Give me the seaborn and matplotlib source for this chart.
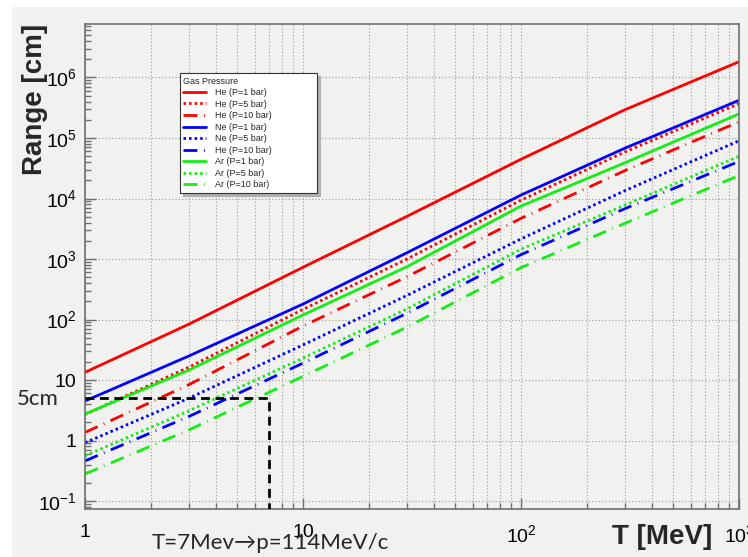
import matplotlib
matplotlib.use("Agg")
import matplotlib.pyplot as plt
from matplotlib.patches import Rectangle
from matplotlib.ticker import LogLocator, FuncFormatter, NullFormatter
import numpy as np
import pandas as pd
import seaborn as sns

# Proton kinetic energy [MeV]
T_MeV = [1, 3, 10, 30, 100, 300, 1000]

# Range [cm] in each gas / pressure
he_1bar = [13.4, 84, 730, 5080, 44500, 2.94e5, 1.82e6]
he_5bar = [2.7, 16.3, 147, 1000, 9400, 5.9e4, 3.7e5]
he_10bar = [1.36, 8.4, 78, 510, 4700, 2.9e4, 1.85e5]
ne_1bar = [4.5, 25, 180, 1270, 11400, 6.8e4, 4.2e5]
ne_5bar = [0.92, 5.0, 38, 250, 2150, 1.35e4, 9.0e4]
ne_10bar = [0.46, 2.5, 19, 127, 1180, 6.8e3, 4.1e4]
ar_1bar = [2.74, 14.6, 119, 747, 7500, 3.9e4, 2.5e5]
ar_5bar = [0.56, 3.1, 23, 150, 1450, 7.8e3, 5.0e4]
ar_10bar = [0.28, 1.5, 11.5, 75, 720, 3.9e3, 2.4e4]

series_labels = ["He (P=1 bar)", "He (P=5 bar)", "He (P=10 bar)",
                 "Ne (P=1 bar)", "Ne (P=5 bar)", "He (P=10 bar)",
                 "Ar (P=1 bar)", "Ar (P=5 bar)", "Ar (P=10 bar)"]
series_values = [he_1bar, he_5bar, he_10bar,
                 ne_1bar, ne_5bar, ne_10bar,
                 ar_1bar, ar_5bar, ar_10bar]

# Working point: T = 7 MeV gives a 5 cm range
mark_T = 7
mark_range = 5

# ---- styling ----
sns.set_theme(style="ticks")
plt.rcParams["font.family"] = ["Liberation Sans", "DejaVu Sans"]
plt.rcParams["mathtext.fontset"] = "custom"
plt.rcParams["mathtext.rm"] = "Liberation Sans"
plt.rcParams["mathtext.it"] = "Liberation Sans:italic"
plt.rcParams["mathtext.bf"] = "Liberation Sans:bold"

bg = "#f1f2ef"
frame = "#707070"

red, blue, green = "#ff0000", "#0000ff", "#14ee14"
solid = "-"
dotted = (0, (0.9, 1.1))
dashdot = (0, (5.0, 2.4, 0.3, 2.4))
colors = [red, red, red, blue, blue, blue, green, green, green]
styles = [solid, dotted, dashdot] * 3

fig = plt.figure(figsize=(7.48, 5.57), dpi=100, facecolor="white")
fig.patches.append(Rectangle((12 / 748, 0), 1, 1 - 7 / 557,
                             transform=fig.transFigure, facecolor=bg,
                             edgecolor="none", zorder=-10))
ax = fig.add_axes([85 / 748, 48 / 557, 654 / 748, 485 / 557])
ax.set_facecolor(bg)

for vals, lab, col, ls in zip(series_values, series_labels, colors, styles):
    df = pd.DataFrame({"T": T_MeV, "Range": vals})
    sns.lineplot(data=df, x="T", y="Range", ax=ax, color=col, linestyle=ls,
                 linewidth=2.0, label=lab, estimator=None, sort=True)

ax.set_xscale("log")
ax.set_yscale("log")
y_low, y_high = 0.0738, 7.66e6
ax.set_xlim(1, 1000)
ax.set_ylim(y_low, y_high)

# dashed guide to the working point
guide = pd.DataFrame({"T": [1, mark_T, mark_T],
                      "Range": [mark_range, mark_range, y_low]})
ax.plot(guide["T"], guide["Range"], color="black", linewidth=2.0,
        linestyle=(0, (3.2, 2.0)), zorder=5)

# ticks
def fmt(v, pos):
    if v <= 0:
        return ""
    n = int(round(np.log10(v)))
    if n == 0:
        return "1"
    if n == 1:
        return "10"
    return r"$10^{%d}$" % n

ax.xaxis.set_major_locator(LogLocator(base=10, numticks=20))
ax.xaxis.set_minor_locator(LogLocator(base=10, subs=np.arange(2, 10), numticks=40))
ax.yaxis.set_major_locator(LogLocator(base=10, numticks=20))
ax.yaxis.set_minor_locator(LogLocator(base=10, subs=np.arange(2, 10), numticks=40))
ax.xaxis.set_major_formatter(FuncFormatter(fmt))
ax.yaxis.set_major_formatter(FuncFormatter(fmt))
ax.xaxis.set_minor_formatter(NullFormatter())
ax.yaxis.set_minor_formatter(NullFormatter())

ax.tick_params(axis="both", which="major", direction="in", length=8,
               width=1.0, color=frame, labelsize=14, labelcolor="black")
ax.tick_params(axis="both", which="minor", direction="in", length=4.3,
               width=1.0, color=frame)
ax.tick_params(axis="x", which="major", pad=11)
ax.tick_params(axis="y", which="major", pad=6)

for sp in ax.spines.values():
    sp.set_color(frame)
    sp.set_linewidth(1.2)

ax.grid(True, which="major", axis="both", color="#9a9a9a",
        linestyle=(0, (1, 2)), linewidth=0.8)
ax.grid(True, which="minor", axis="x", color="#9a9a9a",
        linestyle=(0, (1, 2)), linewidth=0.8)
ax.set_axisbelow(True)

ax.set_xlabel("T [MeV]", fontsize=20, fontweight="bold", loc="right")
ax.xaxis.set_label_coords((712 - 85) / 654, -0.031)
ax.set_ylabel("Range [cm]", fontsize=20, fontweight="bold", loc="top")
ax.yaxis.set_label_coords(-0.0565, 1.0)

leg = ax.legend(loc="upper left", bbox_to_anchor=(0.145, 0.799, 0.21, 0.1),
                mode="expand", title="Gas Pressure", fontsize=6.5,
                title_fontsize=6.5, alignment="left", frameon=True,
                fancybox=False, edgecolor="#333333", framealpha=1,
                handlelength=2.5, handletextpad=1.0, labelspacing=0.28,
                borderpad=0.4, borderaxespad=0,
                shadow={"color": "#b0b0b0", "alpha": 1.0})
leg.get_frame().set_linewidth(0.8)
leg.get_frame().set_facecolor("white")

side_font = ["Lato", "DejaVu Sans"]
fig.text(152 / 748, 1 - 549 / 557, "T=7Mev\u2192p=114MeV/c", fontsize=16,
         family=side_font, ha="left", va="baseline")
fig.text(17 / 748, 1 - 405 / 557, "5cm", fontsize=16, family=side_font,
         ha="left", va="baseline")

fig.savefig("out.png", dpi=100, facecolor=fig.get_facecolor())
